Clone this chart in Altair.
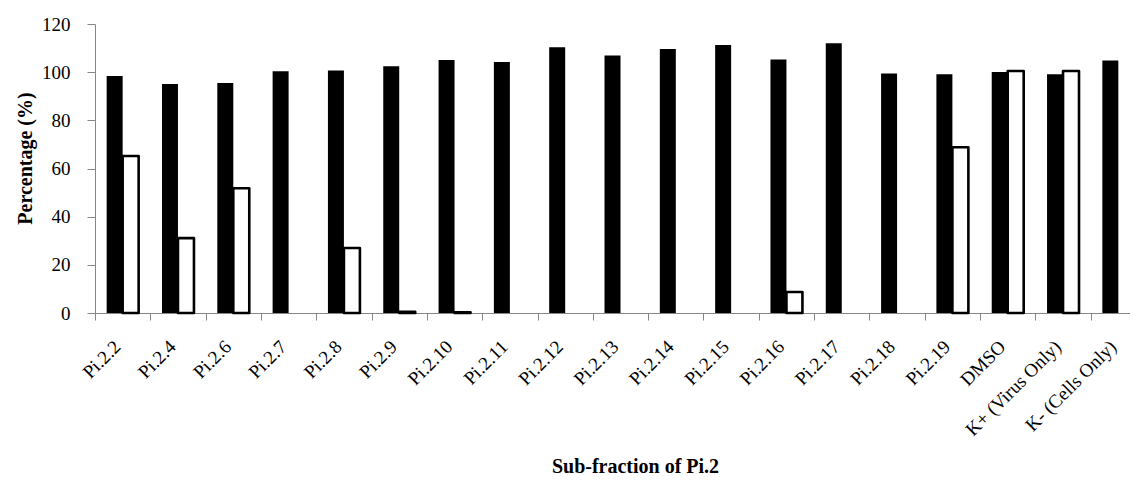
import altair as alt
import pandas as pd

categories = ["Pi.2.2", "Pi.2.4", "Pi.2.6", "Pi.2.7", "Pi.2.8", "Pi.2.9", "Pi.2.10",
              "Pi.2.11", "Pi.2.12", "Pi.2.13", "Pi.2.14", "Pi.2.15", "Pi.2.16",
              "Pi.2.17", "Pi.2.18", "Pi.2.19", "DMSO", "K+ (Virus Only)", "K- (Cells Only)"]
black_values = [98.4, 95.1, 95.5, 100.4, 100.7, 102.5, 105.1, 104.2, 110.3, 106.9,
                109.6, 111.3, 105.3, 112.0, 99.4, 99.1, 100.1, 99.1, 104.8]
white_values = [65.2, 31.1, 51.8, None, 27.0, 0.5, 0.3, None, None, None,
                None, None, 8.7, None, None, 68.8, 100.5, 100.5, None]
series_names = ["Black", "White"]
y_ticks = [0, 20, 40, 60, 80, 100, 120]

rows = []
for c, b, w in zip(categories, black_values, white_values):
    rows.append({"category": c, "series": "Black", "value": b})
    if w is not None:
        rows.append({"category": c, "series": "White", "value": w})
df = pd.DataFrame(rows)

FONT = "Liberation Serif"
GREY = "#868686"

x_enc = alt.X(
    "category:N",
    sort=categories,
    scale=alt.Scale(range=[0, 1051], paddingInner=0, paddingOuter=0),
    axis=alt.Axis(
        title="Sub-fraction of Pi.2",
        labelAngle=-45,
        labelAlign="right",
        labelBaseline="top",
        labelPadding=17,
        labelOffset=-12,
        labelFont=FONT,
        labelFontSize=19,
        labelColor="black",
        labelOverlap=False,
        tickBand="extent",
        tickSize=7,
        tickColor=GREY,
        domainColor=GREY,
        titleFont=FONT,
        titleFontSize=20,
        titleFontWeight="bold",
        titleColor="black",
        titleX=540,
        titleY=159,
        titleAlign="center",
        titleBaseline="alphabetic",
    ),
)
xo_enc = alt.XOffset(
    "series:N",
    scale=alt.Scale(domain=series_names, paddingInner=0, paddingOuter=0.73),
)
y_enc = alt.Y(
    "value:Q",
    scale=alt.Scale(domain=[0, 120], nice=False),
    axis=alt.Axis(
        title="Percentage (%)",
        values=y_ticks,
        grid=False,
        labelPadding=17,
        labelFont=FONT,
        labelFontSize=19,
        labelColor="black",
        tickSize=8,
        tickColor=GREY,
        domainColor=GREY,
        titleFont=FONT,
        titleFontSize=20,
        titleFontWeight="bold",
        titleColor="black",
        titleX=-70,
        titleY=134,
        titleAngle=270,
        titleAlign="center",
        titleBaseline="middle",
    ),
)

base = alt.Chart(df)
black = base.transform_filter(alt.datum.series == "Black").mark_bar(
    color="black", strokeWidth=0
).encode(x=x_enc, xOffset=xo_enc, y=y_enc)
white = base.transform_filter(alt.datum.series == "White").mark_bar(
    fill="white", stroke="black", strokeWidth=2.6, strokeJoin="round"
).encode(x=x_enc, xOffset=xo_enc, y=y_enc)

chart = alt.layer(black, white).properties(
    width=1035,
    height=289,
    autosize="none",
    padding={"left": 87, "top": 16, "right": 0, "bottom": 163},
    background="white",
).configure_view(stroke=None)

chart.save("out.html", embed_options={"renderer": "svg", "actions": False})
